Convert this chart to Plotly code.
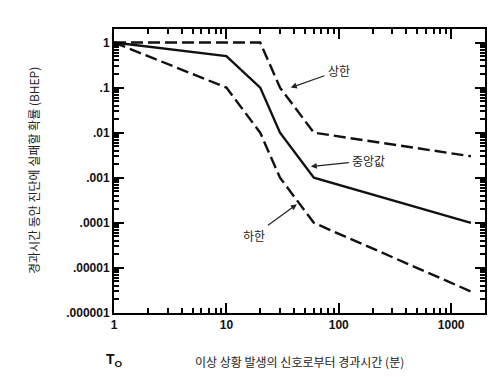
import plotly.graph_objects as go
import math

# Data
time_min = [1, 10, 20, 30, 60, 1500]
median = [1.0, 0.5, 0.1, 0.01, 0.001, 0.0001]
upper_t = [1, 20, 30, 60, 1500]
upper = [1.0, 1.0, 0.1, 0.01, 0.003]
lower_t = [1, 10, 20, 30, 60, 1500]
lower = [1.0, 0.1, 0.01, 0.001, 0.0001, 0.000003]

x_ticks = [1, 10, 100, 1000]
x_labels = ["1", "10", "100", "1000"]
y_ticks = [1, 0.1, 0.01, 0.001, 0.0001, 0.00001, 0.000001]
y_labels = ["1", ".1", ".01", ".001", ".0001", ".00001", ".000001"]

X_RANGE = [0, math.log10(2000)]
Y_RANGE = [-6, 0.3]

line_color = "#111111"
fig = go.Figure()
fig.add_trace(go.Scatter(x=upper_t, y=upper, mode="lines",
                         line=dict(color=line_color, width=2.4, dash="12px,5px"), name="상한"))
fig.add_trace(go.Scatter(x=time_min, y=median, mode="lines",
                         line=dict(color=line_color, width=2.4), name="중앙값"))
fig.add_trace(go.Scatter(x=lower_t, y=lower, mode="lines",
                         line=dict(color=line_color, width=2.4, dash="12px,5px"), name="하한"))

tickfont = dict(family="Liberation Sans", size=12, color="#111111")
kfont = dict(family="Noto Sans CJK KR", size=12, color="#222222")

fig.update_layout(
    width=496, height=377,
    margin=dict(l=106, r=19, t=21, b=72),
    paper_bgcolor="white", plot_bgcolor="white",
    showlegend=False,
)
minor_cfg = dict(ticks="inside", ticklen=5, tickwidth=1.5, tickcolor="black",
                 dtick="D1", showgrid=False)
fig.update_xaxes(type="log", range=X_RANGE, tickvals=x_ticks,
                 ticktext=["<b>%s</b>" % t for t in x_labels],
                 showgrid=False, zeroline=False, showline=True, linecolor="black",
                 linewidth=2, mirror="allticks", ticks="inside", ticklen=10,
                 tickcolor="black", tickwidth=2, tickfont=tickfont, minor=minor_cfg)
fig.update_yaxes(type="log", range=Y_RANGE, tickvals=y_ticks,
                 ticktext=["<b>%s</b>" % t for t in y_labels],
                 showgrid=False, zeroline=False, showline=True, linecolor="black",
                 linewidth=2, mirror="allticks", ticks="inside", ticklen=10,
                 tickcolor="black", tickwidth=2, tickfont=tickfont, minor=minor_cfg)

annos = [
    dict(text="상한", x=1.573, y=-1.0, ax=48, ay=-17),
    dict(text="중앙값", x=1.751, y=-2.75, ax=58, ay=-6),
    dict(text="하한", x=1.627, y=-3.59, ax=-43, ay=31),
]
for a in annos:
    fig.add_annotation(x=a["x"], y=a["y"], xref="x", yref="y", text=a["text"],
                       showarrow=True, ax=a["ax"], ay=a["ay"], arrowhead=2,
                       arrowsize=1, arrowwidth=1.2, arrowcolor="#222222",
                       font=kfont, standoff=0, startstandoff=2)

fig.add_annotation(text="이상 상황 발생의 신호로부터 경과시간 (분)", xref="paper", yref="paper",
                   x=0.5, y=-0.135, xanchor="center", yanchor="top", showarrow=False,
                   font=kfont)
fig.add_annotation(text="<b>T<sub>O</sub></b>", xref="paper", yref="paper",
                   x=0.0, y=-0.125, xanchor="center", yanchor="top", showarrow=False,
                   font=dict(family="Liberation Sans", size=14, color="#111111"))
fig.add_annotation(text="경과시간 동안 진단에 실패할 확률 (BHEP)", xref="paper", yref="paper",
                   x=-0.218, y=0.5, xanchor="center", yanchor="middle", showarrow=False,
                   textangle=-90, font=kfont)

fig.write_html("out.html")
